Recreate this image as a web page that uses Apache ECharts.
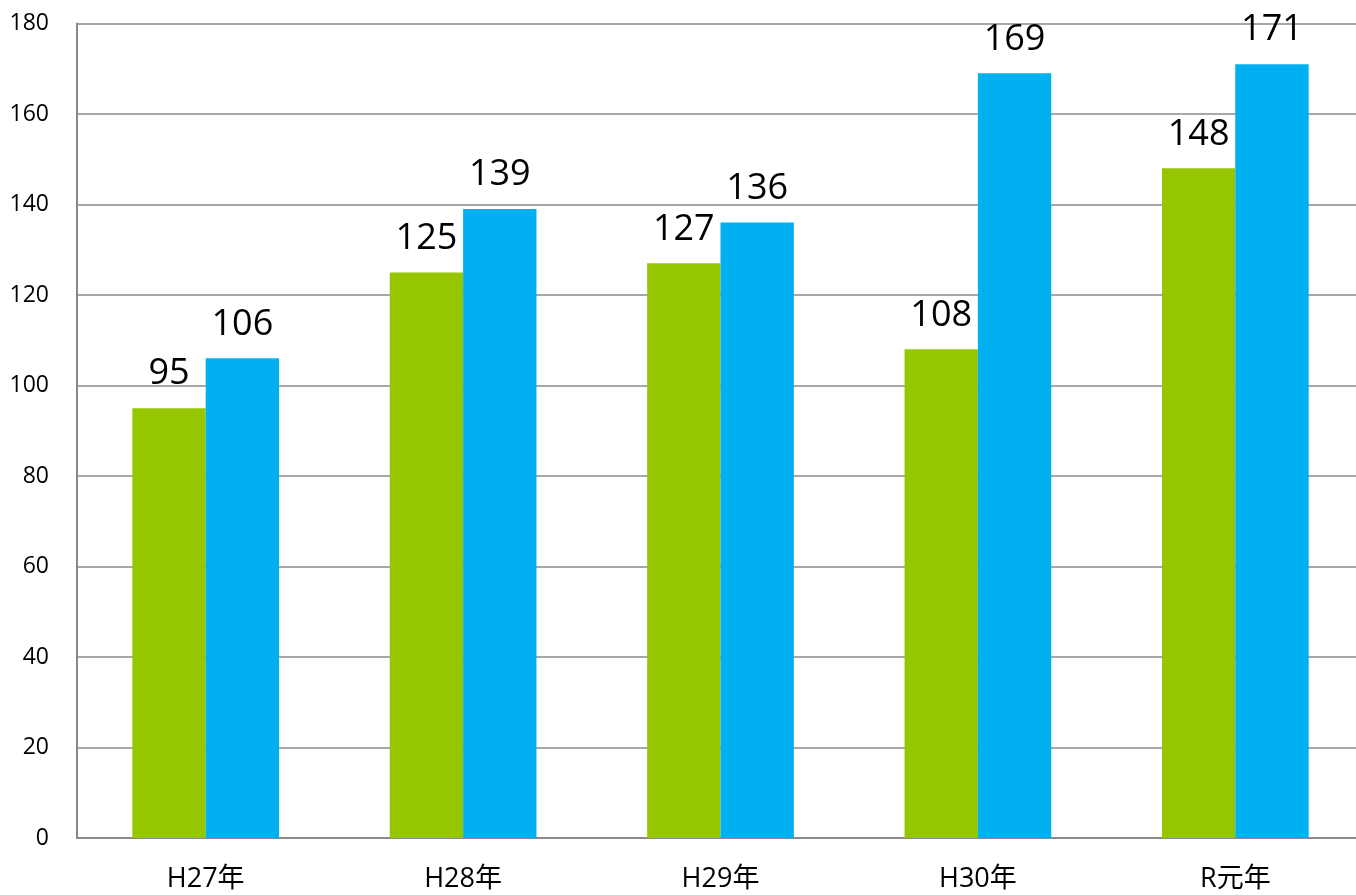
<!DOCTYPE html>
<html><head><meta charset="utf-8">
<script src="https://cdn.jsdelivr.net/npm/echarts@6/dist/echarts.min.js"></script>
<style>html,body{margin:0;padding:0;background:#fff;overflow:hidden}#c{width:1356px;height:895px}</style>
</head><body><div id="c"></div>
<script>
const categories = ['H27年','H28年','H29年','H30年','R元年'];
const seriesA = [95,125,127,108,148];
const seriesB = [106,139,136,169,171];
const yTicks = {min:0,max:180,interval:20};

const font = '"Open Sans","Noto Sans CJK JP",sans-serif';
const chart = echarts.init(document.getElementById('c'));
const labelStyle = {show:true,position:'top',distance:16,fontSize:36,fontFamily:font,color:'#000'};
chart.setOption({
  animation:false,
  grid:{left:77,right:-8,top:23.5,bottom:57,outerBoundsMode:'none',containLabel:false},
  xAxis:{type:'category',data:categories,
    axisLine:{lineStyle:{color:'#8a8a8a',width:2}},
    axisTick:{show:false},
    axisLabel:{fontSize:27,fontFamily:font,color:'#000',margin:28}},
  yAxis:{type:'value',min:yTicks.min,max:yTicks.max,interval:yTicks.interval,
    axisLine:{show:true,lineStyle:{color:'#8a8a8a',width:2}},
    axisTick:{show:false},
    splitLine:{lineStyle:{color:'#8a8a8a',width:1.5}},
    axisLabel:{fontSize:23,fontFamily:font,color:'#000',margin:28}},
  series:[
    {type:'bar',data:seriesA,barGap:'0%',barCategoryGap:'43%',itemStyle:{color:'#96C600'},label:labelStyle},
    {type:'bar',data:seriesB,barGap:'0%',barCategoryGap:'43%',itemStyle:{color:'#00B0F0'},label:labelStyle}
  ]
});
</script></body></html>
